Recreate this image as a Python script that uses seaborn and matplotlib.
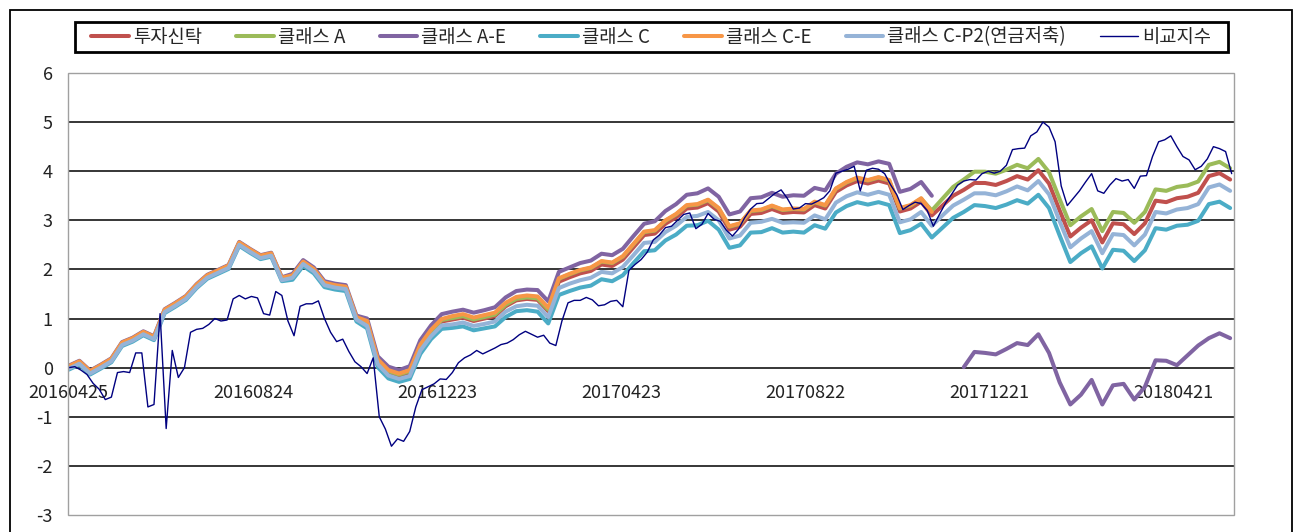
import matplotlib
matplotlib.use("Agg")
import matplotlib.pyplot as plt
from matplotlib.patches import Rectangle
from matplotlib.lines import Line2D
import seaborn as sns
import pandas as pd

sns.set_style("white")
plt.rcParams["font.family"] = ["Noto Sans CJK KR", "DejaVu Sans"]
plt.rcParams["axes.unicode_minus"] = False

# ---------------- data ----------------
START = "2016-04-25"
fund_dates = pd.date_range(START, periods=110, freq="7D")     # weekly fund NAV points
bench_dates = pd.date_range(START, periods=192, freq="4D")    # benchmark, a bit denser
tick_labels = ["20160425", "20160824", "20161223", "20170423",
               "20170822", "20171221", "20180421"]

trust = [0.0, 0.1, -0.1, 0.02, 0.15, 0.48, 0.57, 0.7, 0.6, 1.15,
         1.28, 1.42, 1.66, 1.85, 1.95, 2.05, 2.52, 2.38, 2.25, 2.3,
         1.8, 1.85, 2.13, 1.98, 1.7, 1.65, 1.62, 1.0, 0.9, 0.12,
         -0.1, -0.17, -0.1, 0.42, 0.72, 0.94, 0.98, 1.02, 0.95, 1.0,
         1.05, 1.25, 1.37, 1.4, 1.38, 1.15, 1.75, 1.84, 1.92, 1.97,
         2.1, 2.07, 2.2, 2.45, 2.7, 2.73, 2.93, 3.06, 3.24, 3.26,
         3.35, 3.18, 2.81, 2.87, 3.13, 3.15, 3.23, 3.15, 3.17, 3.16,
         3.31, 3.24, 3.58, 3.71, 3.80, 3.75, 3.81, 3.75, 3.18, 3.24,
         3.38, 3.1, 3.3, 3.5, 3.62, 3.76, 3.76, 3.72, 3.8, 3.9,
         3.83, 4.02, 3.75, 3.2, 2.67, 2.85, 3.0, 2.55, 2.94, 2.92,
         2.72, 2.94, 3.4, 3.37, 3.45, 3.48, 3.56, 3.9, 3.96, 3.83]

class_a = [0.01, 0.11, -0.09, 0.03, 0.16, 0.49, 0.58, 0.71, 0.61, 1.16,
           1.29, 1.43, 1.67, 1.86, 1.96, 2.06, 2.53, 2.39, 2.26, 2.31,
           1.81, 1.86, 2.14, 1.99, 1.71, 1.66, 1.63, 1.01, 0.93, 0.15,
           -0.07, -0.14, -0.07, 0.45, 0.75, 0.97, 1.01, 1.05, 0.98, 1.03,
           1.08, 1.28, 1.40, 1.43, 1.41, 1.18, 1.81, 1.90, 1.98, 2.03,
           2.16, 2.13, 2.26, 2.51, 2.76, 2.79, 2.99, 3.12, 3.30, 3.32,
           3.41, 3.24, 2.87, 2.93, 3.19, 3.21, 3.29, 3.21, 3.23, 3.22,
           3.37, 3.30, 3.64, 3.77, 3.86, 3.81, 3.87, 3.81, 3.24, 3.30,
           3.44, 3.20, 3.44, 3.68, 3.83, 3.99, 3.99, 3.95, 4.03, 4.13,
           4.06, 4.25, 3.98, 3.43, 2.90, 3.08, 3.23, 2.78, 3.17, 3.15,
           2.95, 3.17, 3.63, 3.60, 3.68, 3.71, 3.79, 4.13, 4.19, 4.06]

# class A-E: old class runs to Nov 2017, then a re-launched class from Dec 2017
class_ae = [0.04, 0.14, -0.06, 0.06, 0.19, 0.52, 0.61, 0.74, 0.64, 1.19,
            1.32, 1.46, 1.70, 1.89, 1.99, 2.09, 2.56, 2.42, 2.29, 2.34,
            1.84, 1.91, 2.19, 2.04, 1.76, 1.71, 1.68, 1.06, 1.00, 0.23,
            0.02, -0.05, 0.03, 0.56, 0.86, 1.09, 1.14, 1.18, 1.12, 1.17,
            1.23, 1.43, 1.56, 1.59, 1.58, 1.35, 1.95, 2.04, 2.13, 2.18,
            2.32, 2.29, 2.42, 2.68, 2.93, 2.98, 3.19, 3.33, 3.52, 3.55,
            3.65, 3.48, 3.12, 3.18, 3.45, 3.47, 3.56, 3.48, 3.51, 3.50,
            3.66, 3.61, 3.95, 4.09, 4.18, 4.14, 4.20, 4.15, 3.58, 3.64,
            3.78, 3.50]
class_ae_new = [0.01, 0.32, 0.30, 0.27, 0.38, 0.50, 0.46, 0.68, 0.30, -0.30,
                -0.75, -0.55, -0.25, -0.75, -0.36, -0.33, -0.65, -0.39, 0.15, 0.14,
                0.05, 0.25, 0.45, 0.60, 0.70, 0.60]

class_c = [-0.04, 0.06, -0.14, -0.02, 0.11, 0.44, 0.53, 0.66, 0.56, 1.11,
           1.24, 1.38, 1.62, 1.81, 1.91, 2.01, 2.48, 2.34, 2.21, 2.26,
           1.76, 1.79, 2.07, 1.92, 1.64, 1.59, 1.56, 0.94, 0.80, 0.01,
           -0.22, -0.29, -0.23, 0.28, 0.58, 0.79, 0.81, 0.84, 0.76, 0.80,
           0.84, 1.03, 1.15, 1.17, 1.14, 0.90, 1.48, 1.56, 1.63, 1.67,
           1.80, 1.76, 1.88, 2.13, 2.37, 2.39, 2.59, 2.71, 2.89, 2.90,
           2.99, 2.81, 2.44, 2.49, 2.75, 2.76, 2.84, 2.75, 2.77, 2.75,
           2.90, 2.83, 3.16, 3.29, 3.37, 3.32, 3.37, 3.31, 2.74, 2.80,
           2.93, 2.65, 2.85, 3.05, 3.17, 3.31, 3.29, 3.25, 3.32, 3.41,
           3.34, 3.52, 3.25, 2.69, 2.15, 2.33, 2.47, 2.02, 2.40, 2.38,
           2.17, 2.39, 2.84, 2.81, 2.89, 2.91, 2.99, 3.33, 3.38, 3.25]

class_ce = [0.03, 0.13, -0.07, 0.05, 0.18, 0.51, 0.60, 0.73, 0.63, 1.18,
            1.31, 1.45, 1.69, 1.88, 1.98, 2.08, 2.55, 2.41, 2.28, 2.33,
            1.83, 1.88, 2.16, 2.01, 1.73, 1.68, 1.65, 1.03, 0.95, 0.17,
            -0.05, -0.12, -0.05, 0.47, 0.77, 0.99, 1.05, 1.09, 1.02, 1.07,
            1.12, 1.32, 1.44, 1.47, 1.45, 1.22, 1.82, 1.91, 1.99, 2.04,
            2.17, 2.14, 2.27, 2.52, 2.77, 2.80, 3.00, 3.13, 3.31, 3.33,
            3.42, 3.25, 2.88, 2.94, 3.20, 3.22, 3.30, 3.22, 3.24, 3.23,
            3.38, 3.31, 3.65, 3.78, 3.87, 3.82, 3.88, 3.82, 3.25, 3.31,
            3.45, 3.17]

class_cp2 = [-0.02, 0.08, -0.12, 0.00, 0.13, 0.46, 0.55, 0.68, 0.58, 1.13,
             1.26, 1.40, 1.64, 1.83, 1.93, 2.03, 2.50, 2.36, 2.23, 2.28,
             1.78, 1.83, 2.11, 1.96, 1.68, 1.63, 1.60, 0.98, 0.85, 0.07,
             -0.16, -0.23, -0.17, 0.35, 0.64, 0.86, 0.88, 0.92, 0.85, 0.89,
             0.94, 1.14, 1.25, 1.28, 1.26, 1.03, 1.62, 1.71, 1.78, 1.83,
             1.95, 1.92, 2.05, 2.29, 2.54, 2.56, 2.76, 2.89, 3.07, 3.09,
             3.17, 3.00, 2.63, 2.69, 2.95, 2.97, 3.03, 2.95, 2.96, 2.95,
             3.10, 3.02, 3.36, 3.49, 3.57, 3.52, 3.58, 3.52, 2.96, 3.02,
             3.17, 2.89, 3.10, 3.30, 3.42, 3.55, 3.55, 3.51, 3.59, 3.69,
             3.61, 3.80, 3.53, 2.98, 2.45, 2.63, 2.78, 2.33, 2.72, 2.70,
             2.49, 2.71, 3.17, 3.14, 3.22, 3.25, 3.33, 3.67, 3.73, 3.60]

benchmark = [0.0, 0.02, -0.05, -0.14, -0.32, -0.44, -0.65, -0.6, -0.1, -0.08,
             -0.1, 0.3, 0.3, -0.8, -0.75, 1.1, -1.24, 0.35, -0.2, 0.0,
             0.72, 0.78, 0.8, 0.88, 1.0, 0.95, 0.97, 1.4, 1.47, 1.4,
             1.45, 1.42, 1.1, 1.07, 1.55, 1.47, 0.95, 0.65, 1.25, 1.3,
             1.3, 1.36, 1.0, 0.72, 0.53, 0.58, 0.33, 0.12, 0.02, -0.12,
             0.2, -1.0, -1.25, -1.6, -1.45, -1.5, -1.3, -0.8, -0.45, -0.39,
             -0.33, -0.23, -0.24, -0.1, 0.1, 0.2, 0.26, 0.35, 0.28, 0.34,
             0.4, 0.47, 0.5, 0.57, 0.67, 0.74, 0.68, 0.62, 0.66, 0.5,
             0.45, 0.95, 1.32, 1.37, 1.37, 1.43, 1.38, 1.26, 1.28, 1.35,
             1.37, 1.24, 1.98, 2.1, 2.2, 2.35, 2.6, 2.7, 2.85, 2.88,
             3.0, 3.12, 3.15, 2.83, 2.92, 3.14, 3.02, 2.98, 2.8, 2.68,
             2.82, 3.05, 3.23, 3.34, 3.35, 3.45, 3.55, 3.62, 3.45, 3.23,
             3.25, 3.34, 3.33, 3.39, 3.46, 3.6, 3.96, 4.0, 4.04, 4.1,
             3.6, 4.02, 4.06, 4.04, 3.95, 3.72, 3.52, 3.22, 3.3, 3.37,
             3.34, 3.2, 2.88, 3.12, 3.35, 3.53, 3.72, 3.8, 3.83, 3.82,
             3.95, 4.0, 3.96, 4.0, 4.12, 4.44, 4.46, 4.47, 4.72, 4.8,
             5.0, 4.9, 4.6, 3.7, 3.3, 3.45, 3.6, 3.78, 3.95, 3.6,
             3.55, 3.72, 3.85, 3.8, 3.83, 3.65, 3.9, 3.91, 4.3, 4.6,
             4.64, 4.72, 4.5, 4.3, 4.23, 4.03, 4.1, 4.25, 4.5, 4.46,
             4.4, 3.95]

# ---------------- style ----------------
RED, GREEN, PURPLE = "#C0504D", "#9BBB59", "#8064A2"
TEAL, ORANGE, LBLUE = "#4BACC6", "#F79646", "#95B3D7"
NAVY = "#000080"
FUND_LW, BENCH_LW = 2.9, 1.0
FS = 13

fig = plt.figure(figsize=(13, 5.32), dpi=100, facecolor="white")
ax = fig.add_axes([0.0523, 0.032, 0.8969, 0.8308])

# draw order follows the legend (C-P2 ends up on top of the fund band)
series = [
    ("투자신탁", fund_dates, trust, RED, FUND_LW),
    ("클래스 A", fund_dates, class_a, GREEN, FUND_LW),
    ("클래스 A-E", fund_dates[:len(class_ae)], class_ae, PURPLE, FUND_LW),
    (None, fund_dates[-len(class_ae_new):], class_ae_new, PURPLE, FUND_LW),
    ("클래스 C", fund_dates, class_c, TEAL, FUND_LW),
    ("클래스 C-E", fund_dates[:len(class_ce)], class_ce, ORANGE, FUND_LW),
    ("클래스 C-P2(연금저축)", fund_dates, class_cp2, LBLUE, FUND_LW),
    ("비교지수", bench_dates, benchmark, NAVY, BENCH_LW),
]
handles, labels = [], []
for name, d, v, c, lw in series:
    sns.lineplot(x=d, y=v, color=c, linewidth=lw, ax=ax, legend=False)
    if name:
        handles.append(Line2D([], [], color=c, linewidth=lw))
        labels.append(name)

# axes: y grid in black, plot-area frame in grey, date labels hugging y=0
ax.set_ylim(-3, 6)
ax.set_yticks(range(-3, 7))
ax.set_xlim(pd.Timestamp(START) - pd.Timedelta(hours=12),
            pd.Timestamp(START) + pd.Timedelta(days=765, hours=12))
ax.set_xticks(pd.to_datetime(tick_labels, format="%Y%m%d"))
ax.set_xticklabels(tick_labels)
ax.set_xlabel("")
ax.set_ylabel("")
ax.set_axisbelow(True)
ax.yaxis.grid(True, color="black", linewidth=1.1)
ax.xaxis.grid(False)
gl = ax.get_ygridlines()
gl[0].set_visible(False)
gl[-1].set_visible(False)
ax.spines["bottom"].set_position(("data", 0))
for s in ax.spines.values():
    s.set_visible(False)
ax.add_patch(Rectangle((0, 0), 1, 1, transform=ax.transAxes, fill=False,
                       edgecolor="#A0A0A0", linewidth=1.0, clip_on=False, zorder=5))
ax.tick_params(axis="y", length=0, pad=11, labelsize=FS, labelcolor="#222222")
ax.tick_params(axis="x", length=0, pad=12, labelsize=FS, labelcolor="#222222")

# legend in a black box across the top
fig.legend(handles, labels, ncol=7, loc="center", bbox_to_anchor=(0.5008, 1 - 37 / 532),
           frameon=False, fontsize=13.5, handlelength=2.0, handletextpad=0.2,
           columnspacing=1.85)
fig.patches.append(Rectangle((75 / 1300, 1 - 52 / 532), 1153 / 1300, 30 / 532,
                             transform=fig.transFigure, fill=False,
                             edgecolor="black", linewidth=2.0))
# outer chart frame (bottom edge is cropped in the original)
fig.patches.append(Rectangle((10 / 1300, -0.05), 1282 / 1300, 1.05 - 10 / 532,
                             transform=fig.transFigure, fill=False,
                             edgecolor="black", linewidth=1.3))

fig.savefig("out.png", dpi=100, facecolor="white")
